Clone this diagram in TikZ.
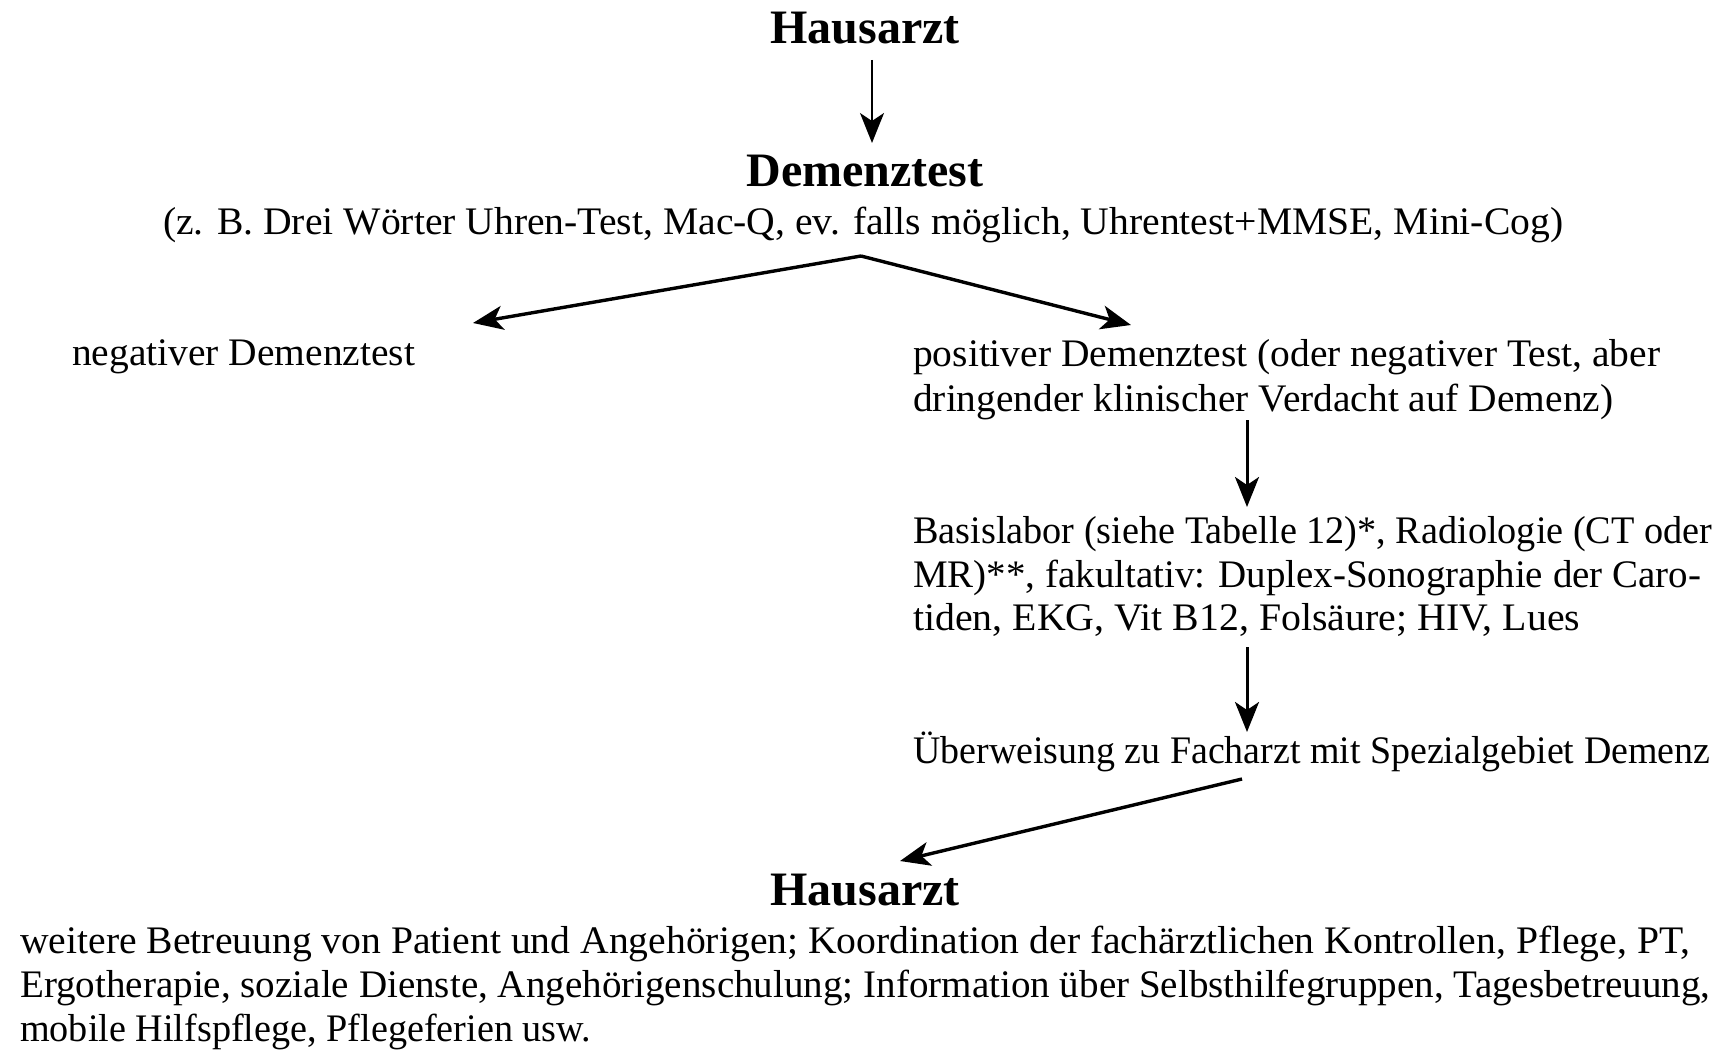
\documentclass[tikz,border=0pt]{standalone}
\usepackage{fontspec}
\setmainfont{Liberation Serif}
\usetikzlibrary{arrows.meta}
\newcommand{\fitw}[2]{\resizebox{#1pt}{\height}{#2}}
\begin{document}
\begin{tikzpicture}[x=1pt,y=-1pt,
  title/.style={font=\fontsize{48}{56}\selectfont\bfseries, inner sep=0pt, anchor=base},
  txt/.style={font=\fontsize{39}{44}\selectfont, inner sep=0pt, anchor=base west},
  arr/.style={line width=3pt, -{Stealth[length=30pt,width=24pt,inset=8pt]}}]
\fill[white] (0,0) rectangle (1726,1051);
\useasboundingbox (0,0) rectangle (1726,1051);
\node[title] (h1) at (865,44) {Hausarzt};
\node[title] (dt) at (865,187) {Demenztest};
\node[txt, anchor=base west] (sub) at (163,234) {\fitw{1400}{(z. B. Drei Wörter Uhren-Test, Mac-Q, ev. falls möglich, Uhrentest+MMSE, Mini-Cog)}};
\node[txt] (neg) at (72,365) {\fitw{343}{negativer Demenztest}};
\node[txt] (pos1) at (913,366) {\fitw{747}{positiver Demenztest (oder negativer Test, aber}};
\node[txt] (pos2) at (913,411) {\fitw{700}{dringender klinischer Verdacht auf Demenz)}};
\node[txt] (lab1) at (913,543) {\fitw{799}{Basislabor (siehe Tabelle 12)*, Radiologie (CT oder}};
\node[txt] (lab2) at (913,587) {\fitw{788}{MR)**, fakultativ: Duplex-Sonographie der Caro-}};
\node[txt] (lab3) at (913,630) {\fitw{667}{tiden, EKG, Vit B12, Folsäure; HIV, Lues}};
\node[txt] (ueb) at (913,763) {\fitw{797}{Überweisung zu Facharzt mit Spezialgebiet Demenz}};
\node[title] (h2) at (865,905) {Hausarzt};
\node[txt] (bot1) at (20,953) {\fitw{1670}{weitere Betreuung von Patient und Angehörigen; Koordination der fachärztlichen Kontrollen, Pflege, PT,}};
\node[txt] (bot2) at (20,997) {\fitw{1690}{Ergotherapie, soziale Dienste, Angehörigenschulung; Information über Selbsthilfegruppen, Tagesbetreuung,}};
\node[txt] (bot3) at (20,1041) {\fitw{571}{mobile Hilfspflege, Pflegeferien usw.}};
\coordinate (apex) at (861,256);
\coordinate (a1s) at (872,60);
\coordinate (a1e) at (872,143);
\coordinate (negt) at (473,323);
\coordinate (post) at (1131,325);
\coordinate (a4s) at (1247,420);
\coordinate (a4e) at (1247,507);
\coordinate (a5s) at (1247,647);
\coordinate (a5e) at (1247,732);
\coordinate (a6s) at (1242,779);
\coordinate (a6e) at (900,861);
\draw[arr, line width=2pt] (a1s) -- (a1e);
\draw[arr, line width=3.4pt] (apex) -- (negt);
\draw[arr, line width=3.4pt] (apex) -- (post);
\draw[arr] (a4s) -- (a4e);
\draw[arr] (a5s) -- (a5e);
\draw[arr, line width=3.4pt] (a6s) -- (a6e);
\end{tikzpicture}
\end{document}
